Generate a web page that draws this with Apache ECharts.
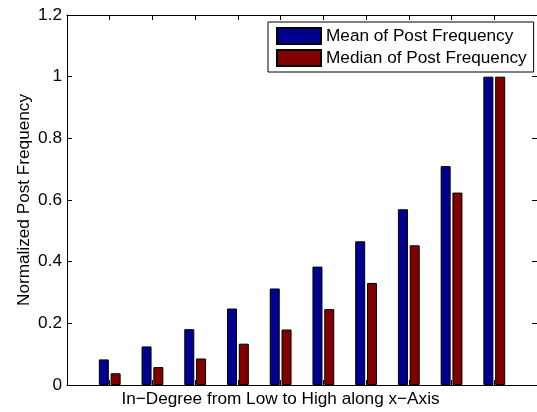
<!DOCTYPE html>
<html>
<head>
<meta charset="utf-8">
<script src="https://cdn.jsdelivr.net/npm/echarts@6/dist/echarts.min.js"></script>
<style>html,body{margin:0;padding:0;background:#fff;}#c{width:537px;height:412px;}</style>
</head>
<body>
<div id="c"></div>
<script>
var groups = [1, 2, 3, 4, 5, 6, 7, 8, 9, 10];
var meanValues = [0.083, 0.125, 0.181, 0.248, 0.313, 0.384, 0.466, 0.570, 0.710, 1.0];
var medianValues = [0.038, 0.058, 0.086, 0.134, 0.180, 0.246, 0.331, 0.453, 0.624, 1.0];
var seriesNames = ['Mean of Post Frequency', 'Median of Post Frequency'];
var xLabel = 'In\u2212Degree from Low to High along x\u2212Axis';
var yLabel = 'Normalized Post Frequency';

var FONT = 'Liberation Sans, Arial, Helvetica, sans-serif';
var FS = 17.2;
var chart = echarts.init(document.getElementById('c'), null, {renderer: 'canvas'});
function pairs(vals) { return groups.map(function (g, i) { return [g, vals[i]]; }); }
var axisLine = {show: true, onZero: false, lineStyle: {color: '#000', width: 1}};
var tickIn = {show: true, inside: true, length: 5, lineStyle: {color: '#000', width: 1}};
chart.setOption({
  animation: false,
  backgroundColor: '#fff',
  grid: {left: 67, top: 15, width: 470, height: 370, containLabel: false},
  xAxis: [
    {type: 'value', min: 0, max: 11, interval: 1, position: 'bottom',
     axisLine: axisLine, axisTick: tickIn, axisLabel: {show: false}, splitLine: {show: false}},
    {type: 'value', min: 0, max: 11, interval: 1, position: 'top',
     axisLine: axisLine, axisTick: tickIn, axisLabel: {show: false}, splitLine: {show: false}}
  ],
  yAxis: [
    {type: 'value', min: 0, max: 1.2, interval: 0.2, position: 'left',
     axisLine: axisLine, axisTick: tickIn, splitLine: {show: false},
     axisLabel: {show: true, margin: 5, color: '#000', fontFamily: FONT, fontSize: FS,
       formatter: function (v) { return String(Math.round(v * 10) / 10); }},
     name: yLabel, nameLocation: 'middle', nameGap: 34, nameMoveOverlap: false,
     nameTextStyle: {color: '#000', fontFamily: FONT, fontSize: FS}},
    {type: 'value', min: 0, max: 1.2, interval: 0.2, position: 'right',
     axisLine: axisLine, axisTick: tickIn, axisLabel: {show: false}, splitLine: {show: false}}
  ],
  legend: {
    orient: 'vertical', left: 268, top: 22,
    padding: [5, 7, 5, 8], itemGap: 4, itemWidth: 44, itemHeight: 16,
    borderColor: '#000', borderWidth: 1, backgroundColor: '#fff',
    textStyle: {color: '#000', fontFamily: FONT, fontSize: FS},
    data: [{name: seriesNames[0], icon: 'rect'}, {name: seriesNames[1], icon: 'rect'}]
  },
  graphic: [{
    type: 'text', x: 280.5, y: 391,
    style: {text: xLabel, fill: '#000', font: FS + 'px ' + FONT, align: 'center', verticalAlign: 'top'}
  }],
  series: [
    {name: seriesNames[0], type: 'bar', xAxisIndex: 0, yAxisIndex: 0, data: pairs(meanValues),
     barWidth: 10, barGap: '18%',
     itemStyle: {color: '#00008f', borderColor: '#000', borderWidth: 1}},
    {name: seriesNames[1], type: 'bar', xAxisIndex: 0, yAxisIndex: 0, data: pairs(medianValues),
     barWidth: 10, barGap: '18%',
     itemStyle: {color: '#800000', borderColor: '#000', borderWidth: 1}}
  ]
});
</script>
</body>
</html>
